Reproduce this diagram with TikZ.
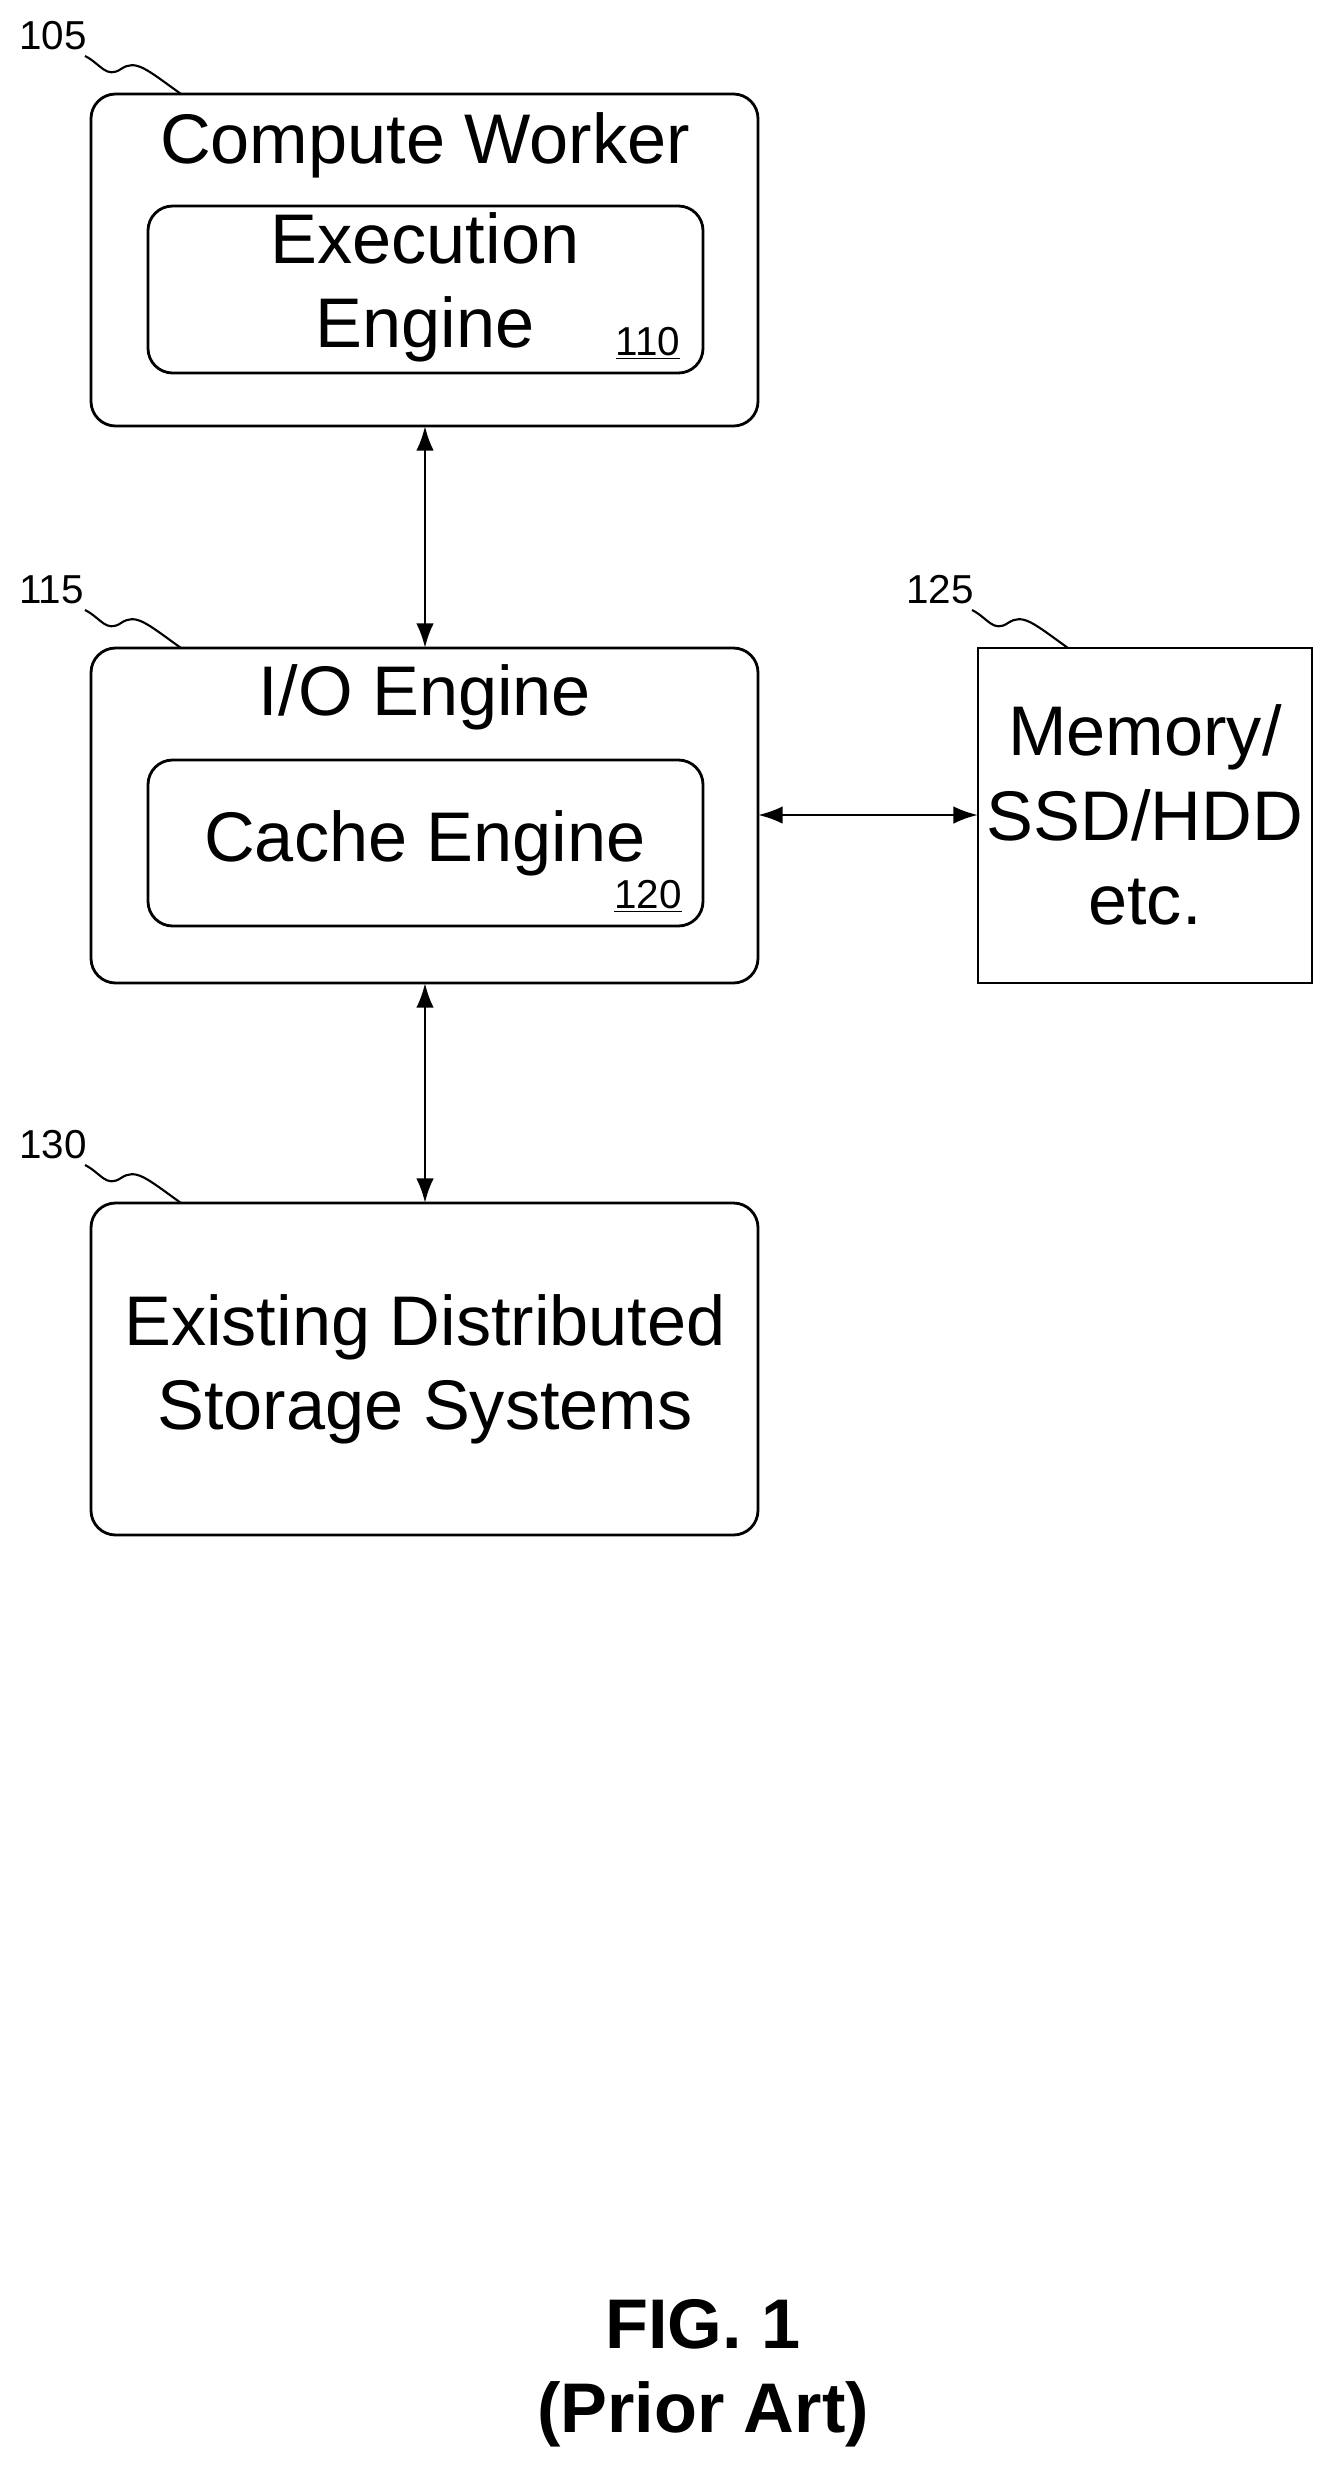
\documentclass[tikz,border=0pt]{standalone}
\usepackage{fontspec}
\setmainfont{Liberation Sans}
\usetikzlibrary{arrows.meta}
\begin{document}
\begin{tikzpicture}[x=0.02cm,y=-0.02cm,
  box/.style={draw,line width=1.6pt,rounded corners=14pt},
  sbox/.style={draw,line width=1.6pt},
  big/.style={font=\fontsize{40}{48}\selectfont,align=center},
  lab/.style={font=\fontsize{23}{26}\selectfont},
  arr/.style={line width=1.6pt,<->,>={Latex[length=14pt,width=10pt]}},
  sq/.style={line width=1.2pt}]
\useasboundingbox (0,0) rectangle (1337,2471);
\draw[box] (91,94) rectangle (758,426);
\node[big] (cw) at (425,145) {Compute Worker};
\draw[box] (148,206) rectangle (703,373);
\node[big] (ee) at (425,287) {Execution\\Engine};
\node[lab] (l110) at (648,343) {\underline{110}};
\draw[box] (91,648) rectangle (758,983);
\node[big] (io) at (425,697) {I/O Engine};
\draw[box] (148,760) rectangle (703,926);
\node[big] (ce) at (425,843) {Cache Engine};
\node[lab] (l120) at (648,896) {\underline{120}};
\draw[sbox] (978,648) rectangle (1312,983);
\node[big] (mem) at (1145,815) {Memory/\\SSD/HDD\\etc.};
\draw[box] (91,1203) rectangle (758,1535);
\node[big] (ex) at (425,1369) {Existing Distributed\\Storage Systems};
\coordinate (a1) at (425,426); \coordinate (a2) at (425,648);
\coordinate (b1) at (425,983); \coordinate (b2) at (425,1203);
\coordinate (c1) at (758,815); \coordinate (c2) at (978,815);
\draw[arr] (a1) -- (a2);
\draw[arr] (b1) -- (b2);
\draw[arr] (c1) -- (c2);
\foreach \n/\x/\y in {105/91/94, 115/91/648, 125/978/648, 130/91/1203}{
  \node[lab,anchor=south west] (n\n) at (\x-78,\y-38) {\n};
  \draw[sq] (\x-6,\y-38) .. controls (\x+10,\y-30) and (\x+15,\y-15) .. (\x+30,\y-25)
     .. controls (\x+45,\y-35) and (\x+55,\y-25) .. (\x+90,\y);
}
\node[font=\bfseries\fontsize{40}{48}\selectfont,align=center] (fig) at (703,2373) {FIG. 1\\(Prior Art)};
\end{tikzpicture}
\end{document}
